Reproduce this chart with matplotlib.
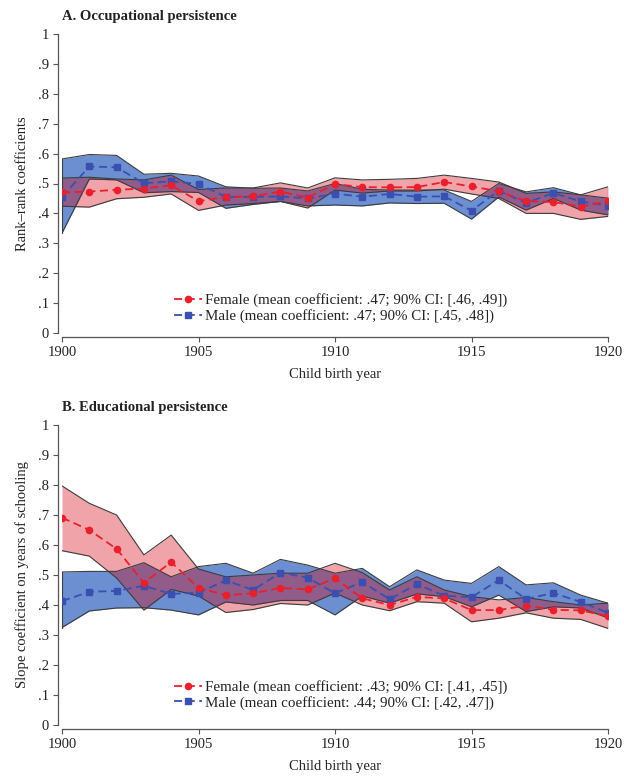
import numpy as np
import matplotlib.pyplot as plt
from matplotlib.ticker import FuncFormatter

# birth years
years = list(range(1900, 1921))

# Panel A: occupational persistence (rank-rank coefficients)
occ_female = [.470, .473, .479, .483, .494, .441, .455, .457, .473, .453, .498,
              .488, .487, .488, .505, .490, .474, .441, .438, .423, .440]
occ_female_hi = [.518, .521, .515, .512, .528, .480, .485, .485, .502, .485, .519,
                 .512, .514, .517, .528, .517, .505, .467, .472, .462, .489]
occ_female_lo = [.424, .421, .449, .454, .465, .410, .428, .433, .440, .418, .478,
                 .468, .475, .475, .481, .465, .450, .400, .400, .380, .390]
occ_male = [.455, .557, .554, .501, .507, .499, .455, .455, .457, .450, .466,
            .456, .465, .456, .457, .409, .476, .435, .468, .440, .426]
occ_male_hi = [.582, .597, .594, .531, .534, .525, .489, .484, .485, .475, .500,
               .481, .478, .478, .478, .440, .500, .472, .486, .462, .451]
occ_male_lo = [.334, .515, .512, .469, .473, .470, .417, .430, .440, .425, .428,
               .425, .435, .433, .434, .381, .455, .411, .450, .411, .395]

# Panel B: educational persistence (slope on years of schooling)
edu_female = [.691, .650, .587, .474, .543, .457, .433, .439, .457, .452, .489,
              .422, .400, .427, .422, .383, .383, .398, .384, .382, .363]
edu_female_hi = [.797, .739, .700, .567, .633, .520, .494, .500, .506, .506, .539,
                 .508, .450, .494, .450, .428, .417, .425, .411, .400, .406]
edu_female_lo = [.581, .563, .490, .383, .452, .430, .375, .385, .405, .400, .440,
                 .400, .381, .411, .406, .344, .356, .374, .356, .352, .322]
edu_male = [.413, .444, .447, .464, .437, .441, .482, .450, .508, .491, .439,
            .477, .419, .470, .431, .426, .483, .420, .440, .410, .374]
edu_male_hi = [.510, .512, .512, .541, .494, .528, .539, .506, .552, .533, .506,
               .522, .461, .517, .483, .472, .528, .467, .474, .433, .406]
edu_male_lo = [.325, .380, .390, .391, .383, .367, .410, .400, .415, .415, .367,
               .430, .406, .437, .428, .394, .433, .378, .394, .390, .357]

leg_a = ["Female (mean coefficient: .47; 90% CI: [.46, .49])",
         "Male (mean coefficient: .47; 90% CI: [.45, .48])"]
leg_b = ["Female (mean coefficient: .43; 90% CI: [.41, .45])",
         "Male (mean coefficient: .44; 90% CI: [.42, .47])"]

plt.rcParams['font.family'] = ['Liberation Serif', 'DejaVu Serif']

RED = '#e8202c'
BLUE = '#3a4fb0'
EDGE = '#3c3c3c'


def yfmt(v, pos):
    if abs(v) < 1e-9:
        return '0'
    if abs(v - 1) < 1e-9:
        return '1'
    return ('%.1f' % v).lstrip('0')


def draw_panel(ax, title, ylabel, fem, fem_hi, fem_lo, male, male_hi, male_lo, labels, leg_y):
    # confidence bands: blue below, translucent red on top
    ax.fill_between(years, male_lo, male_hi, color='#6b8fd0', lw=0, zorder=1)
    ax.fill_between(years, fem_lo, fem_hi, color='#d6000f', alpha=0.36, lw=0, zorder=2)
    for arr in (male_lo, male_hi, fem_lo, fem_hi):
        ax.plot(years, arr, color=EDGE, lw=0.8, zorder=3)
    ax.plot([years[0], years[0]], [male_lo[0], male_hi[0]], color=EDGE, lw=0.8, zorder=3)
    ax.plot([years[-1], years[-1]], [fem_lo[-1], fem_hi[-1]], color=EDGE, lw=0.8, zorder=3)

    l1, = ax.plot(years, fem, color=RED, ls=(0, (4.5, 2.5)), lw=1.3, marker='o',
                  ms=4.5, mec=RED, mfc=RED, zorder=5)
    l2, = ax.plot(years, male, color=BLUE, ls=(0, (4.5, 2.5)), lw=1.3, marker='s',
                  ms=4.3, mec=BLUE, mfc=BLUE, zorder=4)

    ax.set_xlim(1900, 1920)
    ax.set_ylim(0, 1)
    ax.set_xticks([1900, 1905, 1910, 1915, 1920])
    ax.set_yticks(np.arange(0, 1.01, 0.1))
    ax.yaxis.set_major_formatter(FuncFormatter(yfmt))
    for s in ('top', 'right'):
        ax.spines[s].set_visible(False)
    for s in ('left', 'bottom'):
        ax.spines[s].set_position(('outward', 3))
        ax.spines[s].set_color('#555555')
        ax.spines[s].set_linewidth(0.9)
    ax.tick_params(axis='both', length=3.5, width=0.8, color='#555555',
                   labelsize=10.5, labelcolor='#222222', pad=3)
    ax.set_xlabel('Child birth year', fontsize=10.5, color='#222222', labelpad=6)
    ax.set_ylabel(ylabel, fontsize=10.5, color='#222222', labelpad=6)
    ax.text(0.0, 1.038, title, transform=ax.transAxes, fontsize=10.5,
            fontweight='bold', color='#222222', ha='left', va='bottom')

    ax.legend([l1, l2], labels, loc='center left', bbox_to_anchor=(0.205, leg_y),
              frameon=False, fontsize=10.8, handlelength=1.9, handletextpad=0.2,
              labelspacing=0.12, borderpad=0, borderaxespad=0, labelcolor='#222222')


fig = plt.figure(figsize=(6.24, 7.77), dpi=100)

ax_a = fig.add_axes([62 / 624, 1 - 333 / 777, 546 / 624, 299 / 777])
draw_panel(ax_a, 'A. Occupational persistence', 'Rank–rank coefficients',
           occ_female, occ_female_hi, occ_female_lo,
           occ_male, occ_male_hi, occ_male_lo, leg_a, 0.083)

ax_b = fig.add_axes([62 / 624, 1 - 725 / 777, 546 / 624, 300 / 777])
draw_panel(ax_b, 'B. Educational persistence', 'Slope coefficient on years of schooling',
           edu_female, edu_female_hi, edu_female_lo,
           edu_male, edu_male_hi, edu_male_lo, leg_b, 0.10)

fig.savefig('out.png', dpi=100)
